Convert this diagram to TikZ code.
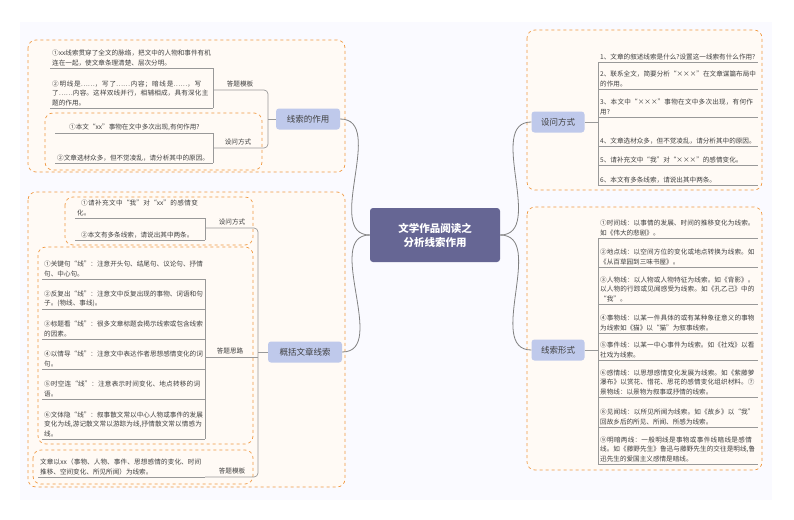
\documentclass[tikz,border=0pt]{standalone}
\usepackage{fontspec}
\setmainfont{Noto Sans CJK SC}
\XeTeXlinebreaklocale "zh"
\XeTeXlinebreakskip=0pt plus 1pt
\begin{document}
\begin{tikzpicture}[x=1pt,y=-1pt,
 leaf/.style={inner sep=2pt,font=\fontsize{6.6}{9.3}\selectfont,text=black!75,align=left},
 ln/.style={draw=black!40,line width=0.7pt},
 br/.style={draw=black!40,line width=0.7pt,rounded corners=4pt},
 grp/.style={draw=orange!70!brown!80,dashed,line width=0.7pt,rounded corners=8pt,fill=orange!4},
 lbl/.style={font=\fontsize{6.6}{8}\selectfont,text=black!75,inner sep=1pt},
 branch/.style={fill=cyan!40!blue!25,rounded corners=3pt,font=\fontsize{8.5}{10}\selectfont,text=black!75,inner sep=0pt,minimum height=21pt},
 conn/.style={draw=black!50,line width=0.8pt}]
\useasboundingbox (0,0) rectangle (794,519);
\fill[blue!2] (20,22) rectangle (772,500);
\newcommand\lf[5]{\node[leaf,text width=#4,anchor=south west] (#1) at (#2,#3) {#5}; \draw[ln] (#1.south west) -- (#1.south east);}
% groups
\path[grp] (28,40) rectangle (345,172);
\path[grp] (45,113) rectangle (262,170);
\path[grp] (28,192) rectangle (345,487);
\path[grp] (65,197) rectangle (253,245);
\path[grp] (38,247) rectangle (253,444);
\path[grp] (33,450) rectangle (253,484);
\path[grp] (527,30) rectangle (762,190);
\path[grp] (527,207) rectangle (762,470);
% center
\node[fill=blue!30!black!60,rounded corners=3pt,text=white,font=\bfseries\fontsize{10.5}{14}\selectfont,align=center,minimum width=130pt,minimum height=54pt] (c) at (435,235) {文学作品阅读之\\分析线索作用};
\node[branch,minimum width=64pt] (b1) at (308,119) {线索的作用};
\node[branch,minimum width=74pt] (b2) at (305,352) {概括文章线索};
\node[branch,minimum width=53pt] (b3) at (558,122) {设问方式};
\node[branch,minimum width=53pt] (b4) at (558,350) {线索形式};
\draw[conn] (c.west) to[out=180,in=0] (b1.east);
\draw[conn] (c.west) to[out=180,in=0] (b2.east);
\draw[conn] (c.east) to[out=0,in=180] (b3.west);
\draw[conn] (c.east) to[out=0,in=180] (b4.west);
% right top
\lf{r1}{598}{62}{156}{1、文章的叙述线索是什么?设置这一线索有什么作用?}
\lf{r2}{598}{89}{156}{2、联系全文，简要分析“×××”在文章谋篇布局中的作用。}
\lf{r3}{598}{117}{156}{3、本文中“×××”事物在文中多次出现，有何作用?}
\lf{r4}{598}{146}{156}{4、文章选材众多，但不觉凌乱，请分析其中的原因。}
\lf{r5}{598}{165}{156}{5、请补充文中“我”对“×××”的感情变化。}
\lf{r6}{598}{185}{156}{6、本文有多条线索，请说出其中两条。}
\draw[br] (b3.east) -- (598,122);
\draw[br] (598,62) -- (598,185);
% right bottom
\lf{s1}{598}{238}{156}{①时间线：以事情的发展、时间的推移变化为线索。如《伟大的悲剧》。}
\lf{s2}{598}{267}{156}{②地点线：以空间方位的变化或地点转换为线索。如《从百草园到三味书屋》。}
\lf{s3}{598}{304}{156}{③人物线：以人物或人物特征为线索。如《背影》。以人物的行踪或见闻感受为线索。如《孔乙己》中的“我”。}
\lf{s4}{598}{333}{156}{④事物线：以某一件具体的或有某种象征意义的事物为线索如《猫》以“猫”为叙事线索。}
\lf{s5}{598}{360}{156}{⑤事件线：以某一中心事件为线索。如《社戏》以看社戏为线索。}
\lf{s6}{598}{397}{156}{⑥感情线：以思想感情变化发展为线索。如《紫藤萝瀑布》以赏花、惜花、思花的感情变化组织材料。⑦景物线：以景物为叙事或抒情的线索。}
\lf{s7}{598}{427}{156}{⑧见闻线：以所见所闻为线索。如《故乡》以“我”回故乡后的所见、所闻、所感为线索。}
\lf{s8}{598}{464}{156}{⑨明暗两线：一般明线是事物或事件线暗线是感情线。如《藤野先生》鲁迅与藤野先生的交往是明线,鲁迅先生的爱国主义感情是暗线。}
\draw[br] (b4.east) -- (598,350);
\draw[br] (598,238) -- (598,464);
% left 1
\lf{a1}{50}{68}{159}{①xx线索贯穿了全文的脉络，把文中的人物和事件有机连在一起，使文章条理清楚、层次分明。}
\lf{a2}{50}{108}{159}{②明线是……，写了……内容；暗线是……，写了……内容。这样双线并行，相辅相成，具有深化主题的作用。}
\lf{a3}{55}{133}{154}{\hspace*{12pt}①本文“xx”事物在文中多次出现,有何作用?}
\lf{a4}{55}{163}{154}{②文章选材众多，但不觉凌乱，请分析其中的原因。}
\node[lbl,anchor=south] (g1) at (240,88) {答题模板};
\node[lbl,anchor=south] (g2) at (238,146) {设问方式};
\draw[br] (213,68) -- (213,108);
\draw[br] (213,133) -- (213,163);
\draw[br] (213,90) -- (268,90) -- (268,148) -- (213,148);
\draw[br] (268,119) -- (b1.west);
% left 2
\lf{d1}{75}{218}{126}{\hspace*{4pt}①请补充文中“我”对“xx”的感情变化。}
\lf{d2}{75}{240}{126}{\hspace*{4pt}②本文有多条线索，请说出其中两条。}
\lf{e1}{42}{279}{159}{①关键句“线”：注意开头句、结尾句、议论句、抒情句、中心句。}
\lf{e2}{42}{309}{159}{②反复出“线”：注意文中反复出现的事物、词语和句子。(物线、事线)。}
\lf{e3}{42}{339}{159}{③标题看“线”：很多文章标题会揭示线索或包含线索的因素。}
\lf{e4}{42}{369}{159}{④以情导“线”：注意文中表达作者思想感情变化的词句。}
\lf{e5}{42}{399}{159}{⑤时空连“线”：注意表示时间变化、地点转移的词语。}
\lf{e6}{42}{439}{159}{⑥文体隐“线”：叙事散文常以中心人物或事件的发展变化为线,游记散文常以游踪为线,抒情散文常以情感为线。}
\lf{f1}{38}{477}{163}{文章以xx（事物、人物、事件、思想感情的变化、时间推移、空间变化、所见所闻）为线索。}
\node[lbl,anchor=south] (h1) at (232,226) {设问方式};
\node[lbl,anchor=south] (h2) at (230,355) {答题思路};
\node[lbl,anchor=south] (h3) at (232,475) {答题模板};
\draw[br] (205,218) -- (205,240);
\draw[br] (205,279) -- (205,439);
\draw[br] (205,228) -- (258,228) -- (258,477) -- (205,477);
\draw[br] (205,357) -- (258,357);
\draw[br] (258,352) -- (b2.west);
\end{tikzpicture}
\end{document}
